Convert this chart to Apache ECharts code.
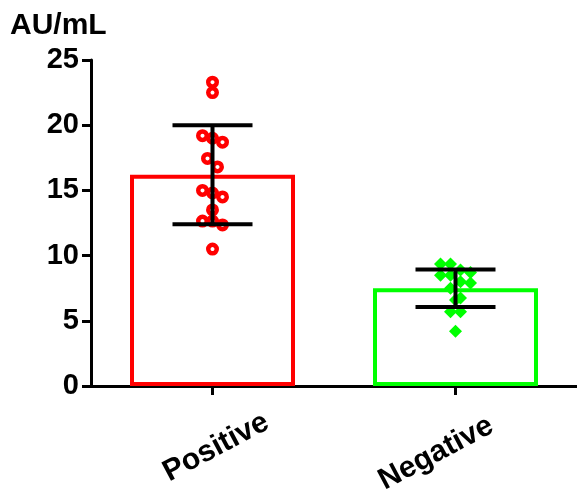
<!DOCTYPE html>
<html>
<head>
<meta charset="utf-8">
<script src="https://cdn.jsdelivr.net/npm/echarts@6/dist/echarts.min.js"></script>
<style>
html,body{margin:0;padding:0;background:#fff;}
#chart{width:577px;height:496px;}
</style>
</head>
<body>
<div id="chart"></div>
<script>
// ---- data ----
const categories = ['Positive', 'Negative'];
const positiveValues = [23.3, 22.5, 19.2, 19.0, 18.7, 17.45, 16.8, 15.0, 14.8, 14.5, 13.5, 12.65, 12.65, 12.35, 10.5];
const negativeValues = [9.35, 9.35, 8.9, 8.7, 8.5, 8.5, 8.0, 7.9, 7.5, 6.75, 6.6, 5.7, 5.7, 4.2];
const means = [16.2, 7.5];
const sds = [3.8, 1.44];
const yTicks = [0, 5, 10, 15, 20, 25];

// ---- layout / style ----
const FONT = 'Liberation Sans, Arial, Helvetica, sans-serif';
const gridTop = 60, gridBottom = 110, gridLeft = 91;
const plotHeight = 496 - gridTop - gridBottom;
const yMax = yTicks[yTicks.length - 1];
const pxPerUnit = plotHeight / yMax;
const dotDiameter = 10;   // px, used for beeswarm layout
const spacing = 10;       // px horizontal spacing between neighbours

// simple beeswarm: bin sorted values into rows, spread each row symmetrically
function swarm(values, catIndex) {
  const sorted = values.slice().sort((a, b) => b - a);
  const bins = [];
  sorted.forEach(v => {
    const last = bins[bins.length - 1];
    if (last && (last[0] - v) * pxPerUnit < dotDiameter) last.push(v);
    else bins.push([v]);
  });
  const out = [];
  bins.forEach(bin => {
    const n = bin.length;
    bin.forEach((v, i) => {
      out.push({ value: [catIndex, v], symbolOffset: [(i - (n - 1) / 2) * spacing, 0] });
    });
  });
  return out;
}

const RED = '#ff0000', GREEN = '#00ff00';
const labelBase = { fontFamily: FONT, fontSize: 30, fontWeight: 'bold', color: '#000' };
const chart = echarts.init(document.getElementById('chart'), null, { renderer: 'canvas' });

chart.setOption({
  animation: false,
  backgroundColor: '#ffffff',
  title: {
    text: 'AU/mL', left: 5, top: 6,
    textStyle: { fontFamily: FONT, fontSize: 30, fontWeight: 'bold', color: '#000' }
  },
  grid: {
    left: gridLeft, right: 0, top: gridTop, bottom: gridBottom,
    containLabel: false, outerBoundsMode: 'none'
  },
  xAxis: {
    type: 'category',
    data: categories,
    boundaryGap: true,
    axisLine: { show: true, lineStyle: { color: '#000', width: 3 } },
    axisTick: { show: true, alignWithLabel: true, length: 9, lineStyle: { color: '#000', width: 3 } },
    axisLabel: {
      rotate: 28, align: 'center', verticalAlign: 'middle', margin: 61,
      ...labelBase,
      formatter: function (v) { return '{' + (v === categories[0] ? 'p' : 'n') + '|' + v + '}'; },
      rich: {
        p: Object.assign({}, labelBase, { padding: [4, 0, 0, 6] }),
        n: Object.assign({}, labelBase, { padding: [0, 40, 7, 0] })
      }
    },
    splitLine: { show: false }
  },
  yAxis: {
    type: 'value',
    min: yTicks[0], max: yMax, interval: 5,
    axisLine: { show: true, lineStyle: { color: '#000', width: 3 } },
    axisTick: { show: true, length: 9, lineStyle: { color: '#000', width: 3 } },
    axisLabel: { margin: 12, fontFamily: FONT, fontSize: 29, fontWeight: 'bold', color: '#000' },
    splitLine: { show: false }
  },
  series: [
    {
      type: 'bar',
      barWidth: 165,
      z: 1,
      data: means.map((m, i) => ({
        value: m,
        itemStyle: { color: 'rgba(255,255,255,0)', borderColor: i === 0 ? RED : GREEN, borderWidth: 4 }
      }))
    },
    {
      type: 'scatter',
      z: 2,
      symbol: 'circle',
      symbolSize: 8.5,
      itemStyle: { color: '#ffffff', borderColor: RED, borderWidth: 4.5, opacity: 1 },
      data: swarm(positiveValues, 0)
    },
    {
      type: 'scatter',
      z: 2,
      symbol: 'diamond',
      symbolSize: 13,
      itemStyle: { color: GREEN, opacity: 1 },
      data: swarm(negativeValues, 1)
    },
    {
      type: 'custom',
      z: 3,
      data: means.map((m, i) => [i, m, sds[i]]),
      encode: { x: 0, y: 1 },
      renderItem: function (params, api) {
        const i = api.value(0), m = api.value(1), s = api.value(2);
        const top = api.coord([i, m + s]);
        const bot = api.coord([i, m - s]);
        const half = 40;
        const style = { stroke: '#000', lineWidth: 4 };
        return {
          type: 'group',
          children: [
            { type: 'line', shape: { x1: top[0], y1: top[1], x2: bot[0], y2: bot[1] }, style: style },
            { type: 'line', shape: { x1: top[0] - half, y1: top[1], x2: top[0] + half, y2: top[1] }, style: style },
            { type: 'line', shape: { x1: bot[0] - half, y1: bot[1], x2: bot[0] + half, y2: bot[1] }, style: style }
          ]
        };
      }
    }
  ]
});
</script>
</body>
</html>
